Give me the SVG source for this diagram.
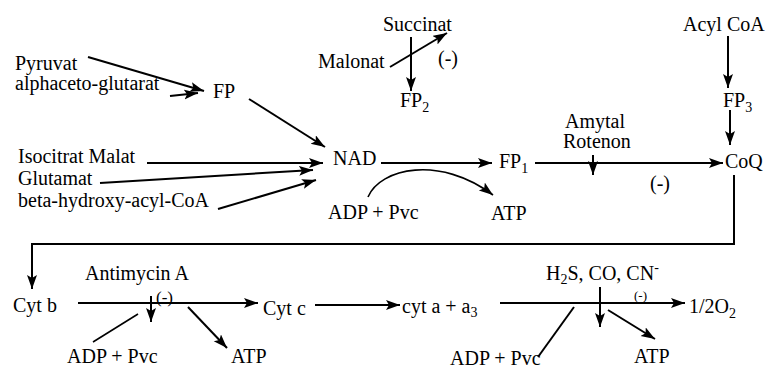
<svg xmlns="http://www.w3.org/2000/svg" width="771" height="372" viewBox="0 0 771 372" font-family="'Liberation Serif', 'Times New Roman', 'DejaVu Serif', serif" font-size="20">
<style>
.sub{font-size:14px}
.c line,.c path,.c polyline{stroke:#000;stroke-width:2;fill:none}
.c .a{marker-end:url(#ah)}
.c .t{stroke-width:1.6}
</style>
<defs>
<marker id="ah" markerUnits="userSpaceOnUse" markerWidth="16" markerHeight="12" refX="14" refY="5" orient="auto">
<path d="M0,0 L14,5 L0,10 L3,5 z" fill="#000"/>
</marker>
</defs>
<rect width="771" height="372" fill="#fff"/>
<g id="pyruvat"><text x="15" y="70">Pyruvat</text></g>
<g id="alpha"><text x="15" y="90">alphaceto-glutarat</text></g>
<g id="fp"><text x="213" y="98">FP</text></g>
<g id="succinat"><text x="383" y="31">Succinat</text></g>
<g id="malonat"><text x="318" y="68">Malonat</text><text x="438" y="65">(-)</text></g>
<g id="fp2"><text x="400" y="107">FP<tspan class="sub" dy="5">2</tspan></text></g>
<g id="acylcoa"><text x="683" y="31">Acyl CoA</text></g>
<g id="fp3"><text x="723" y="107">FP<tspan class="sub" dy="5">3</tspan></text></g>
<g id="isocitrat"><text x="18" y="163">Isocitrat Malat</text></g>
<g id="glutamat"><text x="18" y="185">Glutamat</text></g>
<g id="beta"><text x="18" y="207">beta-hydroxy-acyl-CoA</text></g>
<g id="nad"><text x="333" y="165">NAD</text></g>
<g id="fp1"><text x="499" y="168">FP<tspan class="sub" dy="5">1</tspan></text></g>
<g id="amytal"><text x="565" y="128">Amytal</text><text x="563" y="148">Rotenon</text><text x="650" y="190">(-)</text></g>
<g id="coq"><text x="725" y="168">CoQ</text></g>
<g id="adp1"><text x="328" y="219">ADP + Pvc</text></g>
<g id="atp1"><text x="491" y="220">ATP</text></g>
<g id="cytb"><text x="13" y="312">Cyt b</text></g>
<g id="antimycin"><text x="85" y="280">Antimycin A</text><text x="156" y="303" font-size="17">(-)</text></g>
<g id="cytc"><text x="263" y="315">Cyt c</text></g>
<g id="adp2"><text x="67" y="363">ADP + Pvc</text></g>
<g id="atp2"><text x="231" y="363">ATP</text></g>
<g id="cyta"><text x="402" y="313">cyt a + a<tspan class="sub" dy="4">3</tspan></text></g>
<g id="h2s"><text x="546" y="280">H<tspan class="sub" dy="4">2</tspan><tspan dy="-4">S, CO, CN</tspan><tspan class="sub" dy="-8">-</tspan></text><text x="634" y="300" font-size="13">(-)</text></g>
<g id="o2"><text x="689" y="313">1/2O<tspan class="sub" dy="5">2</tspan></text></g>
<g id="adp3"><text x="450" y="365">ADP + Pvc</text></g>
<g id="atp3"><text x="634" y="363">ATP</text></g>
<g id="connectors" class="c">
<line class="a" x1="88" y1="57" x2="204" y2="91"/>
<line class="a" x1="170" y1="96" x2="198" y2="93"/>
<line class="a" x1="249" y1="99" x2="325" y2="147"/>
<line class="a" x1="147" y1="163" x2="323" y2="163"/>
<line class="a" x1="100" y1="183" x2="313" y2="170"/>
<line class="a" x1="218" y1="209" x2="316" y2="180"/>
<line class="a" x1="381" y1="163" x2="492" y2="163"/>
<path class="a t" d="M368,197 C380,168 440,155 493,195"/>
<line class="a" x1="535" y1="163" x2="723" y2="163"/>
<line class="a" x1="593" y1="155" x2="593" y2="175"/>
<line class="a" x1="411" y1="37" x2="411" y2="91"/>
<line class="a" x1="390" y1="67" x2="447" y2="33"/>
<line class="a" x1="728" y1="36" x2="728" y2="88"/>
<line class="a" x1="730" y1="110" x2="730" y2="145"/>
<polyline class="a" points="734,175 734,244 32,244 32,289"/>
<line class="a" x1="78" y1="303" x2="258" y2="303"/>
<line class="a" x1="151" y1="296" x2="151" y2="322"/>
<line class="t" x1="93" y1="342" x2="138" y2="314"/>
<line class="a" x1="188" y1="307" x2="227" y2="348"/>
<line class="a" x1="315" y1="305" x2="400" y2="305"/>
<line class="a" x1="500" y1="303" x2="685" y2="303"/>
<line class="a" x1="600" y1="287" x2="600" y2="327"/>
<line x1="538" y1="357" x2="574" y2="307"/>
<line class="a" x1="608" y1="310" x2="655" y2="339"/>
</g>
</svg>
